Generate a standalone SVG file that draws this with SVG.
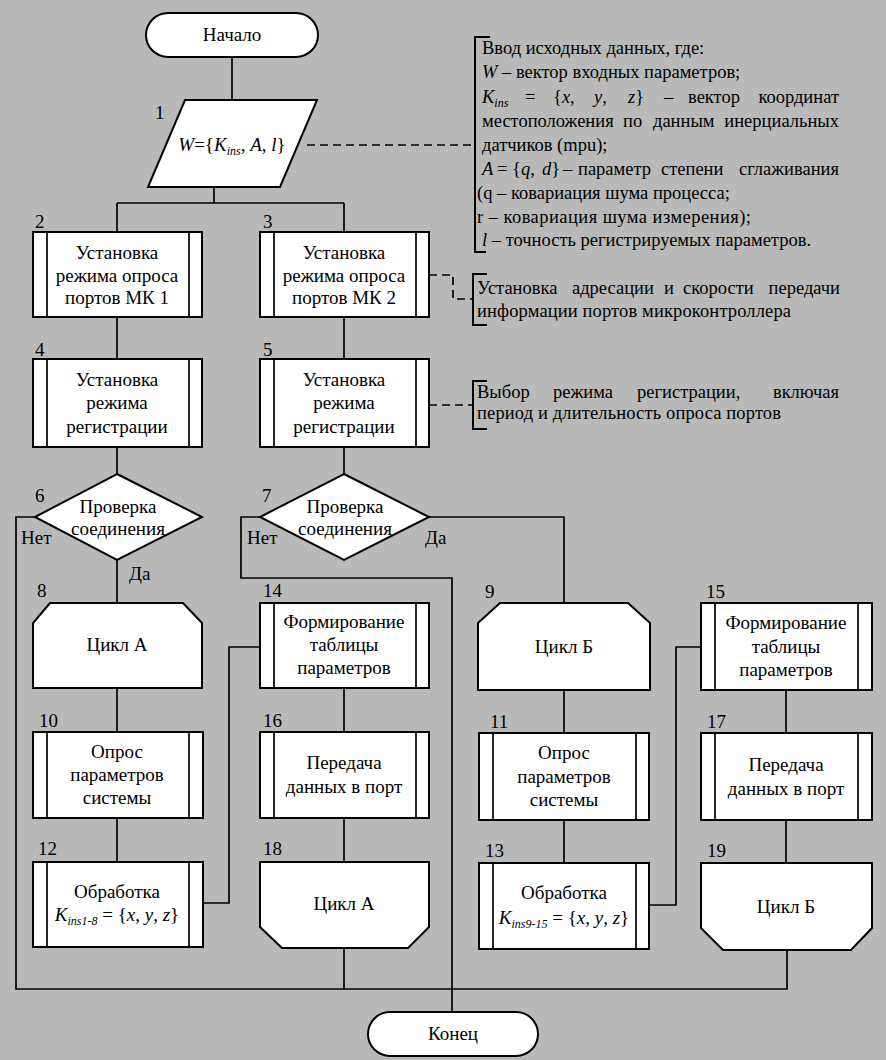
<svg xmlns="http://www.w3.org/2000/svg" width="886" height="1060" viewBox="0 0 886 1060">
<style>
.s{fill:#fff;stroke:#000;stroke-width:2}
.c{fill:none;stroke:#000;stroke-width:1.7}
.d{fill:none;stroke:#000;stroke-width:1.7;stroke-dasharray:8 5}
.b{fill:none;stroke:#000;stroke-width:2}
text{font-family:'Liberation Serif','Times New Roman',serif;font-size:19px;fill:#000}
text.a{font-size:18.5px}
.t{text-anchor:middle}
.e{text-anchor:end}
.i{font-style:italic}
.sub{font-size:12px;font-style:italic}
</style>
<rect width="886" height="1060" fill="#b9b9b9"/>

<g id="connectors">
<path class="c" d="M232,57V100"/>
<path class="c" d="M214,187V203M117,203H344M117,203V232M344,203V232"/>
<path class="c" d="M117,317V359M344,317V359"/>
<path class="c" d="M117,447V474M344,447V474"/>
<path class="c" d="M117,560V603"/>
<path class="c" d="M35,517H16V989H787V950"/>
<path class="c" d="M260,517H241V578H452V1012"/>
<path class="c" d="M429,517H564V603"/>
<path class="c" d="M117,688V732M117,818V862"/>
<path class="c" d="M203,903H229V647H260"/>
<path class="c" d="M344,688V732M344,818V862M344,948V989"/>
<path class="c" d="M564,690V733M564,820V863"/>
<path class="c" d="M649,905H676V647H701"/>
<path class="c" d="M786,690V733M786,820V863"/>
<path class="d" d="M307,145H475"/>
<path class="d" d="M429,275H453V299H473"/>
<path class="d" d="M429,405H473"/>
</g>

<g id="start">
<rect class="s" x="146" y="13" width="172" height="44" rx="22"/>
<text class="t" x="232" y="41">Начало</text>
</g>

<g id="n1">
<polygon class="s" points="185,100 317,100 280,187 148,187"/>
<text x="155" y="119">1</text>
<text class="t" x="232" y="151"><tspan class="i">W</tspan>={<tspan class="i">K</tspan><tspan class="sub" dy="4">ins</tspan><tspan dy="-4">, </tspan><tspan class="i">A</tspan>, <tspan class="i">l</tspan>}</text>
</g>

<g id="note1">
<path class="b" d="M490,37H475V252H486"/>
<text class="a" x="482" y="54">Ввод исходных данных, где:</text>
<text class="a" x="482" y="78"><tspan class="i">W</tspan> – вектор входных параметров;</text>
<text class="a" y="103"><tspan x="482" class="i">K</tspan><tspan class="sub" dy="4">ins</tspan><tspan x="525" dy="-4">=</tspan><tspan x="553">{</tspan><tspan class="i">x</tspan>,<tspan x="594" class="i">y</tspan>,<tspan x="628" class="i">z</tspan>}<tspan x="664">–</tspan><tspan x="688">вектор</tspan></text>
<text class="a e" x="839" y="103">координат</text>
<text class="a" y="127"><tspan x="482">местоположения</tspan><tspan x="623">по</tspan><tspan x="653">данным</tspan></text>
<text class="a e" x="839" y="127">инерциальных</text>
<text class="a" x="482" y="151">датчиков (mpu);</text>
<text class="a" y="175"><tspan x="482" class="i">A</tspan><tspan x="497">=</tspan><tspan x="512">{</tspan><tspan class="i">q</tspan>,<tspan x="542" class="i">d</tspan>}<tspan x="563">–</tspan><tspan x="578">параметр</tspan><tspan x="661">степени</tspan></text>
<text class="a e" x="839" y="175">сглаживания</text>
<text class="a" x="477" y="199">(q – ковариация шума процесса;</text>
<text class="a" x="477" y="223" textLength="274">r – ковариация шума измерения);</text>
<text class="a" x="482" y="246"><tspan class="i">l</tspan> – точность регистрируемых параметров.</text>
</g>

<g id="n2">
<rect class="s" x="33" y="232" width="169" height="85"/>
<path class="c" d="M47,232V317M189,232V317"/>
<text x="35" y="228">2</text>
<text class="t" x="117" y="259">Установка</text>
<text class="t" x="117" y="282">режима опроса</text>
<text class="t" x="117" y="304">портов МК 1</text>
</g>

<g id="n3">
<rect class="s" x="260" y="232" width="169" height="85"/>
<path class="c" d="M274,232V317M416,232V317"/>
<text x="263" y="228">3</text>
<text class="t" x="344" y="259">Установка</text>
<text class="t" x="344" y="282">режима опроса</text>
<text class="t" x="344" y="304">портов МК 2</text>
</g>

<g id="note2">
<path class="b" d="M487,274H473V325H487"/>
<text class="a" y="294"><tspan x="477">Установка</tspan><tspan x="572">адресации</tspan><tspan x="664">и</tspan><tspan x="683">скорости</tspan></text>
<text class="a e" x="840" y="294">передачи</text>
<text class="a" x="477" y="317" textLength="314">информации портов микроконтроллера</text>
</g>

<g id="n4">
<rect class="s" x="33" y="359" width="169" height="88"/>
<path class="c" d="M47,359V447M189,359V447"/>
<text x="35" y="356">4</text>
<text class="t" x="117" y="386">Установка</text>
<text class="t" x="117" y="409">режима</text>
<text class="t" x="117" y="433">регистрации</text>
</g>

<g id="n5">
<rect class="s" x="260" y="359" width="169" height="88"/>
<path class="c" d="M274,359V447M416,359V447"/>
<text x="263" y="356">5</text>
<text class="t" x="344" y="386">Установка</text>
<text class="t" x="344" y="409">режима</text>
<text class="t" x="344" y="433">регистрации</text>
</g>

<g id="note3">
<path class="b" d="M487,381H473V429H487"/>
<text class="a" y="398"><tspan x="477">Выбор</tspan><tspan x="553">режима</tspan><tspan x="637">регистрации,</tspan></text>
<text class="a e" x="839" y="398">включая</text>
<text class="a" x="477" y="419" textLength="304">период и длительность опроса портов</text>
</g>

<g id="n6">
<polygon class="s" points="117,474 202,517 117,560 35,517"/>
<text x="35" y="502">6</text>
<text class="t" x="118" y="513">Проверка</text>
<text class="t" x="118" y="535">соединения</text>
<text x="21" y="544">Нет</text>
<text x="129" y="580">Да</text>
</g>

<g id="n7">
<polygon class="s" points="344,474 429,517 344,560 260,517"/>
<text x="262" y="502">7</text>
<text class="t" x="345" y="513">Проверка</text>
<text class="t" x="345" y="535">соединения</text>
<text x="247" y="544">Нет</text>
<text x="425" y="544">Да</text>
</g>

<g id="n8">
<polygon class="s" points="50,603 183,603 202,623 202,688 33,688 33,623"/>
<text x="37" y="597">8</text>
<text class="t" x="117" y="651">Цикл А</text>
</g>

<g id="n14">
<rect class="s" x="260" y="603" width="169" height="85"/>
<path class="c" d="M274,603V688M416,603V688"/>
<text x="263" y="597">14</text>
<text class="t" x="344" y="628">Формирование</text>
<text class="t" x="344" y="651">таблицы</text>
<text class="t" x="344" y="674">параметров</text>
</g>

<g id="n9">
<polygon class="s" points="500,603 628,603 650,623 650,690 478,690 478,623"/>
<text x="485" y="598">9</text>
<text class="t" x="564" y="653">Цикл Б</text>
</g>

<g id="n15">
<rect class="s" x="701" y="603" width="171" height="87"/>
<path class="c" d="M715,603V690M858,603V690"/>
<text x="706" y="598">15</text>
<text class="t" x="786" y="629">Формирование</text>
<text class="t" x="786" y="653">таблицы</text>
<text class="t" x="786" y="676">параметров</text>
</g>

<g id="n10">
<rect class="s" x="33" y="732" width="170" height="86"/>
<path class="c" d="M47,732V818M189,732V818"/>
<text x="39" y="727">10</text>
<text class="t" x="117" y="758">Опрос</text>
<text class="t" x="117" y="781">параметров</text>
<text class="t" x="117" y="804">системы</text>
</g>

<g id="n16">
<rect class="s" x="260" y="732" width="169" height="86"/>
<path class="c" d="M274,732V818M416,732V818"/>
<text x="263" y="727">16</text>
<text class="t" x="344" y="769">Передача</text>
<text class="t" x="344" y="793">данных в порт</text>
</g>

<g id="n11">
<rect class="s" x="479" y="733" width="170" height="87"/>
<path class="c" d="M493,733V820M636,733V820"/>
<text x="490" y="728">11</text>
<text class="t" x="564" y="759">Опрос</text>
<text class="t" x="564" y="783">параметров</text>
<text class="t" x="564" y="806">системы</text>
</g>

<g id="n17">
<rect class="s" x="701" y="733" width="171" height="87"/>
<path class="c" d="M715,733V820M858,733V820"/>
<text x="707" y="728">17</text>
<text class="t" x="786" y="771">Передача</text>
<text class="t" x="786" y="795">данных в порт</text>
</g>

<g id="n12">
<rect class="s" x="33" y="862" width="170" height="85"/>
<path class="c" d="M47,862V947M189,862V947"/>
<text x="38" y="855">12</text>
<text class="t" x="117" y="898">Обработка</text>
<text class="t" x="117" y="921"><tspan class="i">K</tspan><tspan class="sub" dy="4">ins1-8</tspan><tspan dy="-4"> = {</tspan><tspan class="i">x</tspan>, <tspan class="i">y</tspan>, <tspan class="i">z</tspan>}</text>
</g>

<g id="n18">
<polygon class="s" points="260,862 429,862 429,927 408,948 282,948 260,927"/>
<text x="263" y="855">18</text>
<text class="t" x="344" y="910">Цикл А</text>
</g>

<g id="n13">
<rect class="s" x="479" y="863" width="170" height="86"/>
<path class="c" d="M493,863V949M636,863V949"/>
<text x="485" y="857">13</text>
<text class="t" x="564" y="899">Обработка</text>
<text class="t" x="564" y="924"><tspan class="i">K</tspan><tspan class="sub" dy="4">ins9-15</tspan><tspan dy="-4"> = {</tspan><tspan class="i">x</tspan>, <tspan class="i">y</tspan>, <tspan class="i">z</tspan>}</text>
</g>

<g id="n19">
<polygon class="s" points="701,863 872,863 872,928 851,950 723,950 701,928"/>
<text x="707" y="857">19</text>
<text class="t" x="786" y="913">Цикл Б</text>
</g>

<g id="end">
<rect class="s" x="368" y="1012" width="170" height="44" rx="22"/>
<text class="t" x="453" y="1040">Конец</text>
</g>
</svg>
